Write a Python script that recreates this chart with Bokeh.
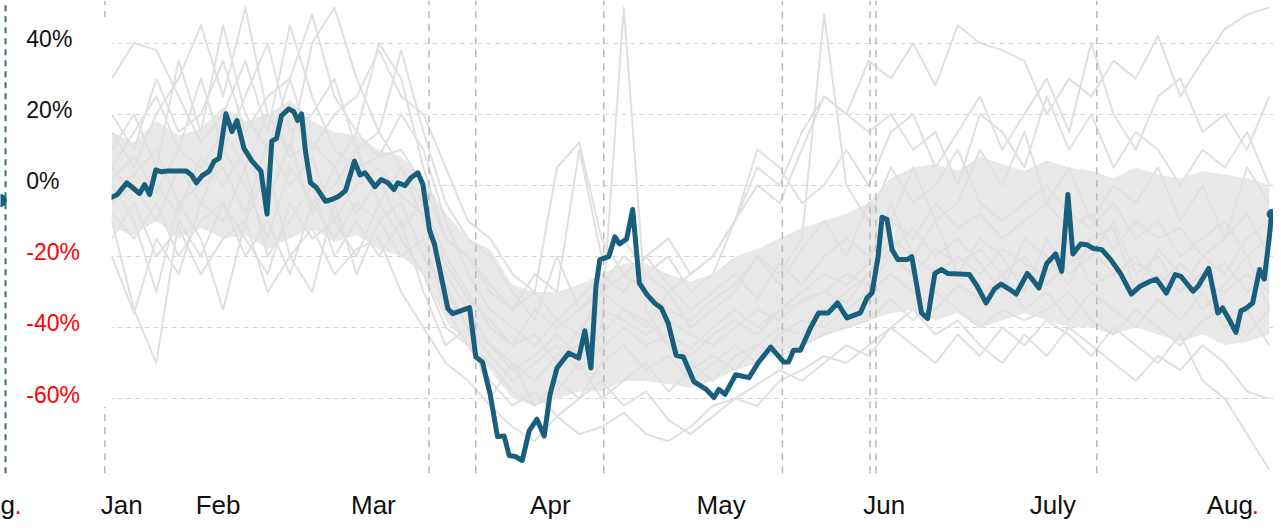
from bokeh.plotting import figure
from bokeh.models import Range1d, FixedTicker, Grid, ColumnDataSource
from bokeh.core.properties import value
from bokeh.embed import file_html
from bokeh.resources import INLINE

# ---------------- data (days from start of series, % change) ----------------
blue_days = [0, 1, 2.7, 3.75, 5, 5.9, 6.8, 7.9, 8.9, 10, 11.25, 13.4, 14.3, 15.2, 16.25, 17.5, 18.4, 19.3, 20.5, 21.6,
             22.5, 23.75, 25.2, 26.8, 27.9, 28.75, 29.6, 30.5, 31.8, 32.7, 33.4, 34.1, 34.8, 35.7, 36.8, 38.4, 39.5, 40.7, 42.0, 43.6,
             44.6, 45.5, 47.3, 48.4, 49.6, 50.7,
             51.4, 52.7, 53.75, 55.0, 55.9, 57.1, 58.0, 60.4, 61.25, 64.3, 65.4, 66.6, 68.0, 69.3, 70.5, 71.4, 72.5, 73.75, 75.0, 76.4,
             77.7, 78.75, 80.0, 82.1, 83.9, 85.0, 86.1, 87.0, 87.7, 89.3, 90.4, 91.25, 92.5, 93.6, 94.8, 96.1, 97.5, 98.75, 100.0, 101.4,
             102.7, 104.6,
             106.8, 108.2, 109.1, 110.2, 112.1, 114.5, 116.25, 118.4, 120.7, 121.6, 122.5, 123.75, 125.5, 127.0, 128.75, 130.4, 132.1, 134.5, 135.7, 136.6,
             137.7, 138.4, 139.3, 140.2, 141.25, 142.9, 143.75, 145.5, 146.6, 147.9, 149.1, 150.2, 154.1, 155.5, 157.1, 158.6,
             159.8, 161.25, 162.5, 164.5, 165.4, 166.6, 168.0, 169.6, 170.7, 171.8, 172.7, 174.1, 175.2, 176.4, 177.9, 179.5, 181.25, 183.2, 184.8, 186.6,
             187.7, 189.5, 191.1, 192.1, 194.3, 195.2, 197.1, 198.75, 199.6, 200.9, 202.0, 202.9, 203.75, 205.0, 206.25, 207.1, 208.0, 208.4]
blue_values = [-3.4, -2.6, 0.7, -0.7, -2.3, 0.2, -2.6, 4.3, 3.8, 4.0, 4.0, 4.0, 2.9, 0.7, 2.7, 4.0, 6.8, 7.6, 20.1, 15.1,
               18.2, 10.4, 6.8, 4.0, -8.1, 12.4, 13.2, 19.6, 21.5, 20.7, 18.2, 20.1, 9.6, 0.7, -0.7, -4.5, -4.0, -3.2, -1.5, 6.8,
               2.9, 3.5, -0.4, 1.6, 0.7, -1.2,
               0.7, -0.1, 2.1, 3.5, 0.2, -12.6, -16.7, -34.7, -36.1, -34.4, -48.3, -49.7, -58.8, -70.7, -70.5, -76.0, -76.3, -77.4, -69.1, -65.8,
               -70.5, -58.8, -51.4, -47.2, -48.6, -40.9, -51.4, -28.4, -20.9, -20.1, -14.5, -16.5, -15.1, -6.8, -27.5, -30.6, -33.1, -34.5, -38.9, -47.8,
               -48.3, -55.2,
               -57.4, -59.7, -57.4, -58.8, -53.3, -54.1, -49.7, -45.5, -49.7, -49.7, -46.4, -46.4, -40.3, -35.9, -35.9, -33.1, -37.3, -35.9, -31.7, -30.3,
               -20.1, -9.0, -9.6, -18.1, -20.9, -20.9, -20.1, -35.9, -37.5, -24.8, -23.7, -24.8, -25.1, -28.4, -33.1, -29.2,
               -27.8, -29.2, -30.6, -24.8, -26.4, -28.9, -22.0, -19.3, -24.2, -2.6, -19.3, -16.5, -16.7, -17.8, -18.1, -20.9, -24.8, -30.6, -28.4, -27.0,
               -26.4, -30.3, -25.1, -25.6, -29.8, -28.4, -23.4, -35.9, -34.5, -38.1, -41.4, -35.3, -34.7, -33.1, -23.7, -26.4, -14.5, -8.1]
assert len(blue_days) == len(blue_values)

# grey peer series, sampled every 4 days
peer_days = list(range(0, 209, 4))
peer_a = [30, 40, 38, 25, 12, 20, 35, 15, 45, 25, 10, 5, 8, 20, 10, -10, -25, -35, -40, -45,
          -38, -42, -30, -25, -30, -35, -38, -32, -28, -20, -25, -15, 48, 0, -10, 5, -5, 0, 10, -5,
          -10, -5, 0, -8, -12, -5, -15, -10, -20, -15, -10, -20, -15]
peer_b = [-10, -35, -50, -10, -20, -5, -15, -25, -5, -15, -10, -20, -5, -15, -25, -40, -45, -55, -62, -58,
          -65, -60, -55, -62, -58, -66, -70, -65, -60, -62, -55, -52, -48, -50, -45, -40, -45, -50, -42, -48,
          -40, -45, -38, -42, -48, -40, -45, -50, -42, -55, -60, -70, -80]
peer_c = [10, 20, 5, 35, 15, 45, 20, 10, 30, 48, 25, 15, 40, 30, 5, -15, -20, -30, -35, -25,
          -30, 10, -20, -15, -25, -20, -30, -25, -10, 0, -5, 10, 25, 20, 35, 30, 40, 28, 45, 40,
          38, 35, 20, 30, 25, 35, 30, 42, 25, 35, 44, 48, 50]
peer_d = [5, 15, 25, 10, 30, 10, 25, 40, 15, 20, 30, 10, 15, 5, -5, -20, -30, -40, -45, -35,
          -40, -35, -28, -20, -25, -30, -25, -20, -10, 5, 0, 15, 25, 20, 15, 20, 10, 15, 0, 20,
          15, 5, 25, 10, 20, 5, 15, 10, 0, 10, 5, 15, 0]
peer_e = [-5, 0, -10, 5, -5, 10, 0, -15, 5, -5, 0, 10, -5, 5, -10, -25, -35, -45, -50, -55,
          -48, -45, -40, 50, -35, -45, -50, -55, -48, -45, -40, -42, -35, -30, -25, -15, -20, -10, -25, -15,
          -20, -30, -15, -25, -20, -10, -25, -20, -30, -20, -25, -15, -10]
peer_f = [-8, -15, -5, -20, -10, -5, -20, -10, -25, -5, -15, -5, -10, -20, -15, -35, -45, -50, -58, -62,
          -55, -60, -50, -45, -52, -48, -55, -50, -45, -50, -42, -38, -40, -35, -30, -25, -30, -35, -28, -32,
          -25, -35, -30, -38, -30, -35, -40, -32, -38, -30, -40, -35, -45]
peer_g = [2, 8, -2, 10, 5, 15, 5, 20, 8, 12, 5, 15, 8, 10, 0, -15, -20, -28, -35, -30,
          -38, -32, -25, -30, -20, -28, -35, -30, -25, -32, -22, -28, -20, -15, -20, -10, -15, -5, -12, -8,
          -15, -10, -5, -12, -8, -18, -10, -15, -12, -20, -15, -8, -20]
peer_h = [-15, -5, -20, -12, -25, -15, -10, -30, -20, -12, -25, -18, -15, -30, -40, -50, -55, -62, -68, -72,
          -65, -70, -68, -64, -70, -72, -68, -62, -60, -56, -52, -55, -50, -45, -48, -40, -35, -42, -38, -45,
          -50, -42, -48, -40, -45, -50, -55, -48, -52, -45, -50, -58, -60]
peer_i = [0, -10, -30, -5, -15, -35, -10, 5, -20, -30, -5, -25, -10, -5, -20, -30, -40, -48, -55, -50,
          -45, -52, -46, -40, -45, -42, -46, -40, -35, -40, -35, -30, -25, -28, -22, -5, -20, -25, -20, -25,
          -18, -22, -25, -15, -28, -25, -20, -28, -22, -28, -30, -25, -30]
peer_j = [15, 5, 20, 30, 45, 25, 50, 20, 10, 40, 50, 30, 15, 38, 15, -5, -15, -20, -30, -38,
          -20, -35, -30, -35, -40, -30, -40, -35, -30, -20, -28, -18, -10, -20, -5, -10, 5, -10, -5, 10,
          0, 15, -5, 5, -10, 0, -5, 5, -10, 0, -15, 5, -5]
peer_k = [-3, 3, 10, -5, 0, 5, -8, 12, 0, 8, -10, 0, 5, -3, -8, -22, -32, -38, -45, -42,
          -50, -40, -35, -38, -42, -38, -42, -45, -40, -35, -38, -32, -30, -25, -28, -20, -25, -18, -22, -18,
          -25, -20, -28, -22, -18, -25, -22, -25, -30, -25, -22, -30, -25]
peer_l = [-20, -36, -15, -25, -5, -10, 5, -20, -10, 0, -20, -10, -20, -10, -30, -45, -40, -60, -50, -62,
          -58, -50, -60, -55, -50, -58, -52, -48, -52, -45, -48, -45, -42, -40, -38, -32, -38, -30, -35, -40,
          -35, -38, -35, -30, -38, -42, -35, -40, -45, -38, -35, -42, -35]
peer_m = [20, 10, 30, 15, 20, 35, 15, 25, 30, 10, 20, 25, 38, 25, 20, 5, -10, -15, -25, -30,
          5, 12, -15, -25, -20, -15, -25, -20, -10, 10, 5, -5, 0, 10, 0, 15, 20, 5, 15, 25,
          10, 20, 30, 15, 40, 20, 10, 25, 30, 15, 20, 10, 25]
peer_n = [5, -2, 0, -8, 8, 0, 10, -5, 12, -8, 5, -8, 2, -12, -5, -28, -40, -45, -52, -48,
          -42, -48, -42, -35, -38, -45, -48, -42, -38, -42, -35, -33, -30, -33, -25, -18, -12, -20, -15, -22,
          -30, -15, -20, -28, -15, -12, -30, -18, -25, -35, -28, -20, -35]
peers = [peer_a, peer_b, peer_c, peer_d, peer_e, peer_f, peer_g, peer_h, peer_i, peer_j, peer_k, peer_l, peer_m, peer_n]
for s in peers:
    assert len(s) == len(peer_days)

# dense core of the many overlapping peer lines (upper / lower edge)
core_high = [15, 12, 18, 14, 16, 22, 18, 20, 24, 18, 15, 14, 10, 8, 2,
             -8, -15, -18, -28, -30, -30, -28, -25, -22, -22, -25, -27, -25, -20, -18, -15, -12, -10, -8, -5,
             2, 5, 6, 4, 8, 6, 4, 7, 5, 4, 2, 5, 3, 2, 4, 3, 2, 0]
core_low = [-12, -14, -10, -15, -12, -15, -14, -18, -15, -12, -16, -14, -18, -20, -25,
            -38, -45, -52, -60, -62, -60, -58, -58, -55, -55, -56, -57, -55, -52, -50, -47, -45, -42, -40, -38,
            -36, -35, -38, -36, -40, -38, -36, -38, -40, -40, -42, -40, -42, -44, -42, -45, -44, -42]
assert len(core_high) == len(peer_days) and len(core_low) == len(peer_days)

event_days = [-1.25, 57.0, 65.4, 88.4, 120.5, 136.25, 137.3, 177.0]

y_ticks = [40, 20, 0, -20, -40, -60]
y_labels = ["40%", "20%", "0%", "-20%", "-40%", "-60%"]
y_label_colors = ["#111111", "#111111", "#111111", "#ff0000", "#ff0000", "#ff0000"]

month_pos = [1.8, 19.1, 47.0, 78.8, 109.5, 138.8, 169.1, 200.9]
month_labels = ["Jan", "Feb", "Mar", "Apr", "May", "Jun", "July", "Aug"]

prev_panel_end_value = -4.3

# ---------------- layout constants ----------------
X_START, X_END = -20.0, 208.75
Y_START, Y_END = -94.29, 51.97
DATA_BOTTOM = -81.0          # bottom of the dashed event lines
LABEL_Y = -89.8              # vertical centre of the month labels
BLUE = "#185f7d"
GREY = "#e0e0e0"
FONT = "Liberation Sans"

p = figure(width=1273, height=520, output_backend="svg", toolbar_location=None,
           x_range=Range1d(X_START, X_END), y_range=Range1d(Y_START, Y_END),
           x_axis_location=None, y_axis_location=None,
           min_border_left=0, min_border_right=0, min_border_top=0, min_border_bottom=0)
p.outline_line_color = None
p.grid.grid_line_color = None
p.grid.visible = False
p.add_layout(Grid(dimension=1, ticker=FixedTicker(ticks=y_ticks), grid_line_color="#d4d4d4",
                  grid_line_dash="5 4", grid_line_width=1))

# grey peers: dense core + individual lines
p.varea(x=peer_days, y1=core_low, y2=core_high, fill_color="#e8e8e8")
p.multi_line(xs=[peer_days] * len(peers), ys=peers, line_color=GREY, line_width=2, line_join="round")

# event dashed lines
n_ev = len(event_days)
p.segment(x0=event_days, y0=[DATA_BOTTOM] * n_ev, x1=event_days, y1=[Y_END] * n_ev,
          line_color="#b9b9b9", line_dash="7 6", line_width=1.5)

# main series
p.line(blue_days, blue_values, line_color=BLUE, line_width=5, line_join="round", line_cap="round")
p.scatter([blue_days[-1]], [blue_values[-1]], size=9, color=BLUE)

# white label panel
p.quad(left=[X_START], right=[-0.05], top=[47.3], bottom=[-62.4], fill_color="white", line_color=None)

src = ColumnDataSource(dict(x=[-15.36] * len(y_ticks), y=y_ticks, t=y_labels, c=y_label_colors))
p.text(x="x", y="y", text="t", text_color="c", source=src, text_font=value(FONT),
       text_font_size=value("23px"), text_align="left", text_baseline="middle", y_offset=-4)

# end marker of the previous panel
p.segment(x0=[-19.1], y0=[DATA_BOTTOM], x1=[-19.1], y1=[Y_END], line_color="#3f6a79", line_dash="6 5", line_width=2)
p.scatter([X_START], [prev_panel_end_value], size=12, color=BLUE)

# month labels
n_m = len(month_pos)
p.text(x=month_pos, y=[LABEL_Y] * n_m, text=month_labels, text_color="#111111", text_font=value(FONT),
       text_font_size=value("26px"), text_align="center", text_baseline="middle")
p.text(x=[month_pos[-1]], y=[LABEL_Y], text=["."], x_offset=22, text_color="#ff0000", text_font=value(FONT),
       text_font_size=value("26px"), text_align="left", text_baseline="middle")
# tail of the previous panel's "Aug." label
p.text(x=[X_START], y=[LABEL_Y], text=["g"], text_color="#111111", text_font=value(FONT),
       text_font_size=value("26px"), text_align="left", text_baseline="middle")
p.text(x=[X_START], y=[LABEL_Y], text=["."], x_offset=14, text_color="#ff0000", text_font=value(FONT),
       text_font_size=value("26px"), text_align="left", text_baseline="middle")

open("out.html", "w").write(file_html(p, INLINE))
